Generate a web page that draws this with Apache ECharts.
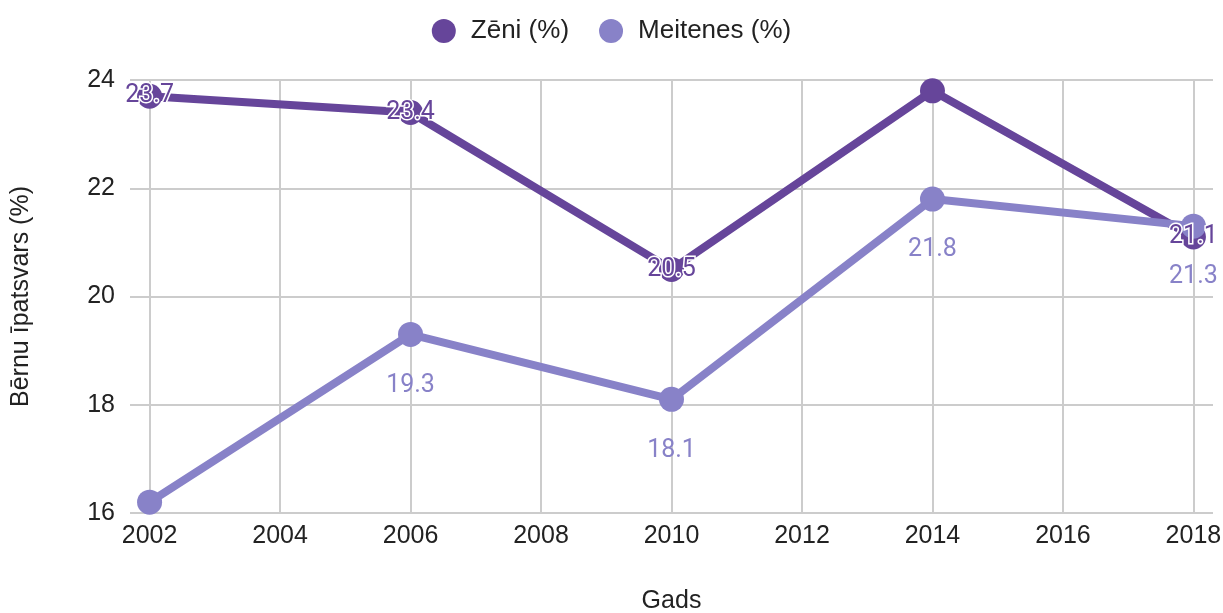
<!DOCTYPE html>
<html>
<head>
<meta charset="utf-8">
<script src="https://cdn.jsdelivr.net/npm/echarts@6/dist/echarts.min.js"></script>
<style>
    html, body { margin: 0; padding: 0; background: #fff; }
    #chart { width: 1223px; height: 613px; }
</style>
</head>
<body>
<div id="chart"></div>
<script>
    // dati
    var years = [2002, 2006, 2010, 2014, 2018];
    var zeni = [23.7, 23.4, 20.5, 23.8, 21.1];
    var meitenes = [16.2, 19.3, 18.1, 21.8, 21.3];
    var xTicks = [2002, 2004, 2006, 2008, 2010, 2012, 2014, 2016, 2018];
    // punkti bez uzraksta (kā oriģinālā)
    var zeniHidden = [3];
    var meitenesHidden = [0];

    var cZeni = '#66459a';
    var cMeit = '#8882c8';
    var txtFont = 'Liberation Sans';

    function pairs(vals) {
        return vals.map(function (v, i) { return [years[i], v]; });
    }

    var chart = echarts.init(document.getElementById('chart'));
    var option = {
        backgroundColor: '#fff',
        legend: {
            top: 13,
            left: 'center',
            icon: 'circle',
            itemWidth: 24,
            itemHeight: 24,
            itemGap: 30,
            textStyle: { fontSize: 26, color: '#222', fontFamily: txtFont, padding: [0, 0, 0, 10] },
            data: ['Zēni (%)', 'Meitenes (%)']
        },
        grid: { left: 130, right: 10, top: 80, bottom: 100, outerBoundsMode: 'none' },
        xAxis: {
            type: 'value',
            min: 2001.7,
            max: 2018.3,
            name: 'Gads',
            nameLocation: 'middle',
            nameGap: 76,
            nameTextStyle: { fontSize: 25, color: '#222', fontFamily: txtFont },
            axisLine: { show: false },
            axisTick: { show: false, customValues: xTicks },
            axisLabel: {
                customValues: xTicks,
                fontSize: 25, color: '#222', margin: 11,
                fontFamily: txtFont,
                formatter: function (v) { return String(v); }
            },
            splitLine: { show: true, lineStyle: { color: '#cccccc', width: 2 } }
        },
        yAxis: {
            type: 'value',
            min: 16,
            max: 24,
            interval: 2,
            name: 'Bērnu īpatsvars (%)',
            nameLocation: 'middle',
            nameGap: 96,
            nameRotate: 90,
            nameTextStyle: { fontSize: 25, color: '#222', fontFamily: txtFont },
            axisLine: { show: false },
            axisTick: { show: false },
            axisLabel: { fontSize: 25, color: '#222', margin: 15, fontFamily: txtFont },
            splitLine: { show: true, lineStyle: { color: '#cccccc', width: 2 } }
        },
        series: [{
            name: 'Zēni (%)',
            type: 'line',
            data: pairs(zeni),
            color: cZeni,
            symbol: 'circle',
            symbolSize: 25,
            lineStyle: { width: 8, color: cZeni },
            itemStyle: { color: cZeni },
            label: {
                show: true,
                position: 'inside',
                fontSize: 25,
                fontFamily: 'Roboto',
                color: cZeni,
                textBorderColor: '#fff',
                textBorderWidth: 3,
                formatter: function (p) {
                    return zeniHidden.indexOf(p.dataIndex) >= 0 ? '' : p.value[1].toFixed(1);
                }
            }
        }, {
            name: 'Meitenes (%)',
            type: 'line',
            data: pairs(meitenes),
            color: cMeit,
            symbol: 'circle',
            symbolSize: 25,
            lineStyle: { width: 8, color: cMeit },
            itemStyle: { color: cMeit },
            label: {
                show: true,
                position: 'bottom',
                distance: 26,
                fontSize: 25,
                fontFamily: 'Roboto',
                color: cMeit,
                formatter: function (p) {
                    return meitenesHidden.indexOf(p.dataIndex) >= 0 ? '' : p.value[1].toFixed(1);
                }
            }
        }]
    };
    chart.setOption(option);
</script>
</body>
</html>
